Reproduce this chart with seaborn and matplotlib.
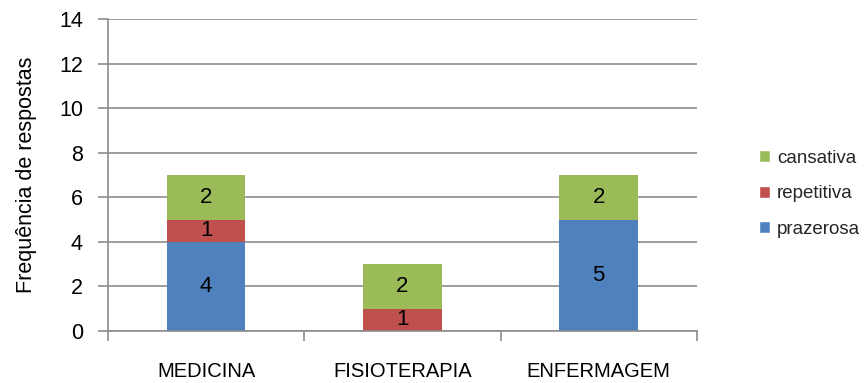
import matplotlib
matplotlib.use("Agg")
import matplotlib.pyplot as plt
import seaborn as sns
import numpy as np
from matplotlib.patches import Patch

cursos = ["MEDICINA", "FISIOTERAPIA", "ENFERMAGEM"]
prazerosa = [4, 0, 5]
repetitiva = [1, 1, 0]
cansativa = [2, 2, 2]
series_nomes = ["prazerosa", "repetitiva", "cansativa"]
cores = ["#4F81BD", "#C0504D", "#9BBB59"]
y_ticks = [0, 2, 4, 6, 8, 10, 12, 14]

sns.set_theme(style="white")
plt.rcParams["font.family"] = ["Liberation Sans Narrow", "Liberation Sans", "DejaVu Sans"]

fig = plt.figure(figsize=(8.66, 3.83), dpi=100)
ax = fig.add_axes([0.1247, 0.1358, 0.68, 0.8142])

valores = [prazerosa, repetitiva, cansativa]
base = np.zeros(len(cursos))
for nome, vals, cor in zip(series_nomes, valores, cores):
    sns.barplot(x=cursos, y=vals, bottom=base, color=cor, width=0.4,
                saturation=1, linewidth=0, ax=ax, order=cursos)
    for i, v in enumerate(vals):
        if v > 0:
            ax.text(i, base[i] + v / 2, str(v), ha="center", va="center",
                    fontsize=16, color="black")
    base = base + np.array(vals)

ax.set_ylim(0, 14)
ax.set_xlim(-0.5, 2.5)
ax.set_yticks(y_ticks)
ax.yaxis.grid(True, color="#8c8c8c", linewidth=1.2)
ax.set_axisbelow(True)

for s in ["top", "right"]:
    ax.spines[s].set_visible(False)
for s in ["left", "bottom"]:
    ax.spines[s].set_color("#8c8c8c")
    ax.spines[s].set_linewidth(1.2)

ax.tick_params(axis="y", which="major", left=True, length=7, width=1.2,
               color="#8c8c8c", labelsize=15.5, pad=11)
ax.tick_params(axis="x", which="major", bottom=False, labelsize=14.5, pad=16)
ax.set_xticks([-0.5, 0.5, 1.5, 2.5], minor=True)
ax.tick_params(axis="x", which="minor", bottom=True, length=7, width=1.2,
               color="#8c8c8c")
for lab in ax.get_yticklabels() + ax.get_xticklabels():
    lab.set_color("black")

ax.set_xlabel("")
ax.set_ylabel("Frequência de respostas", fontsize=15.5, color="black")
ax.yaxis.set_label_coords(-0.12, 0.5)

handles = [Patch(facecolor=c, label=n) for n, c in zip(series_nomes, cores)][::-1]
fig.legend(handles=handles, loc="center left", bbox_to_anchor=(0.857, 0.494),
           frameon=False, fontsize=13.5, handlelength=0.6, handleheight=0.6,
           handletextpad=0.35, labelspacing=1.0)

fig.savefig("out.png", dpi=100)
